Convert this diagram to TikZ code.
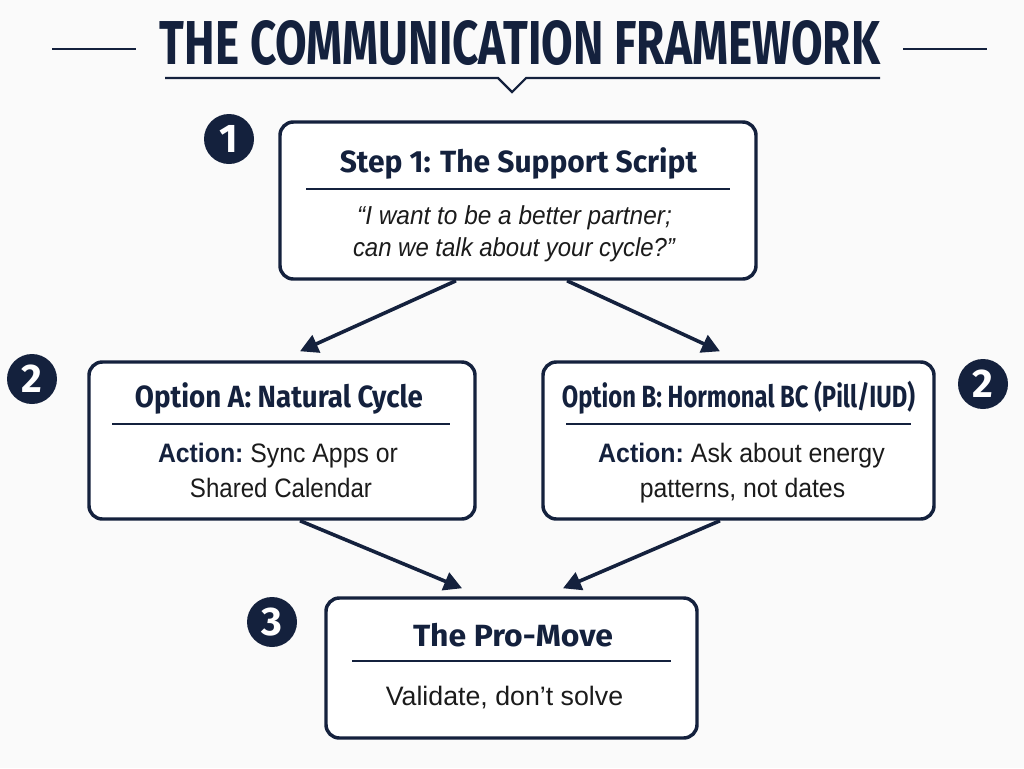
\documentclass[tikz,border=0pt]{standalone}
\usepackage{fontspec}
\usepackage{graphicx}
\setmainfont{Liberation Sans}
\newfontfamily\headfont{Fira Sans}
\usetikzlibrary{arrows.meta}
\definecolor{navy}{HTML}{14213D}
\definecolor{ink}{HTML}{1B1B1B}
\definecolor{bg}{HTML}{FAFAFA}
\newcommand\fitw[2]{\resizebox{#1}{\height}{#2}}
\tikzset{
  box/.style={draw=navy, line width=2.6pt, rounded corners=10pt, fill=white, inner sep=0pt},
  badge/.style={circle, fill=navy, minimum size=37.5pt, inner sep=0pt, text=white,
    font=\headfont\bfseries\fontsize{30}{30}\selectfont},
  head/.style={anchor=base, inner sep=0pt, text=navy, font=\headfont\bfseries\fontsize{23}{23}\selectfont},
  body/.style={anchor=base, inner sep=0pt, text=ink, font=\fontsize{20}{20}\selectfont},
  quote/.style={anchor=base, inner sep=0pt, text=ink, font=\itshape\fontsize{19.5}{19.5}\selectfont},
  sep/.style={draw=navy, line width=1.1pt},
  rule/.style={draw=navy, line width=1.6pt},
  arr/.style={draw=navy, line width=2.7pt, -{Triangle[length=13.5pt,width=14pt]}},
}
\begin{document}
\begin{tikzpicture}[x=0.75pt,y=-0.75pt]
\useasboundingbox[fill=bg] (0,0) rectangle (1024,768);

% title
\node[anchor=base, inner sep=0pt, text=navy] (title) at (520,64)
  {\resizebox{540pt}{33pt}{\headfont\bfseries THE COMMUNICATION FRAMEWORK}};
\draw[rule] (52,49) -- (136,49);
\draw[rule] (903,49) -- (987,49);
\draw[rule] (165,78) -- (498,78) -- (512,92) -- (526,78) -- (880,78);

% boxes
\node[box, minimum width=357pt, minimum height=117.75pt] (s1) at (518,200.5) {};
\node[box, minimum width=289.5pt, minimum height=117.75pt] (a) at (282,440.5) {};
\node[box, minimum width=293.25pt, minimum height=117.75pt] (b) at (738.5,440.5) {};
\node[box, minimum width=278.25pt, minimum height=105pt] (c) at (511.5,668) {};

% separators
\draw[sep] (306,189) -- (730,189);
\draw[sep] (112,424) -- (450,424);
\draw[sep] (566,424) -- (911,424);
\draw[sep] (352,661) -- (671,661);

% box 1 text
\node[head] (s1h) at (518.5,172) {\fitw{268pt}{Step 1: The Support Script}};
\node[quote] (s1q1) at (514.5,224) {\fitw{236pt}{“I want to be a better partner;}};
\node[quote] (s1q2) at (514,256) {\fitw{241.5pt}{can we talk about your cycle?”}};

% box A text
\node[head] (ah) at (279,407) {\fitw{216pt}{Option A: Natural Cycle}};
\node[body] (ab1) at (278,462) {\fitw{180pt}{{\bfseries\color{navy}Action:}~Sync Apps or}};
\node[body] (ab2) at (281,497) {\fitw{136.5pt}{Shared Calendar}};

% box B text
\node[head] (bh) at (738.5,407) {\fitw{265pt}{Option B: Hormonal BC (Pill/IUD)}};
\node[body] (bb1) at (741.5,462) {\fitw{215pt}{{\bfseries\color{navy}Action:}~Ask about energy}};
\node[body] (bb2) at (742.5,497) {\fitw{154pt}{patterns, not dates}};

% box 3 text
\node[head] (ch) at (513,646) {\fitw{150pt}{The Pro-Move}};
\node[body] (cb) at (504.5,705) {\fitw{178pt}{Validate, don’t solve}};

% badges
\node[badge] (n1) at (229,139) {1};
\node[badge] (n2a) at (32,379) {2};
\node[badge] (n2b) at (983,384) {2};
\node[badge] (n3) at (272,622) {3};

% arrows
\draw[arr] ([xshift=-46.5pt]s1.south) -- ([xshift=13.5pt,yshift=6.75pt]a.north);
\draw[arr] ([xshift=36.75pt]s1.south) -- ([xshift=-13.9pt,yshift=6.75pt]b.north);
\draw[arr] ([xshift=13.5pt]a.south) -- ([xshift=-37.1pt,yshift=6pt]c.north);
\draw[arr] ([xshift=-13.9pt]b.south) -- ([xshift=38.6pt,yshift=6pt]c.north);
\end{tikzpicture}
\end{document}
